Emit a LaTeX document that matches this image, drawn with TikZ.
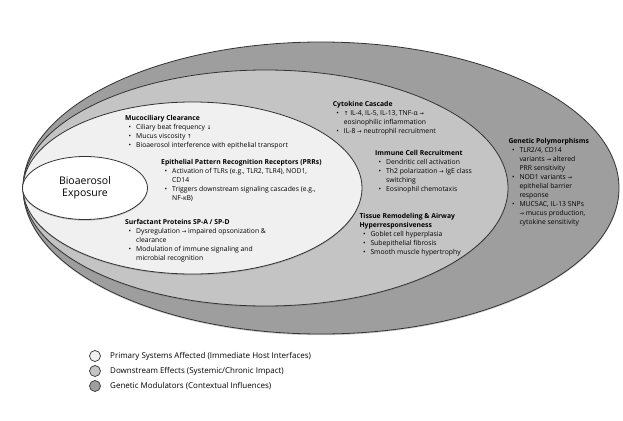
\documentclass[tikz,border=0pt]{standalone}
\usepackage{fontspec}
\setmainfont{Open Sans}
\newfontfamily\arrowfont{DejaVu Sans}
\usetikzlibrary{shapes.geometric,shadows}
\newcommand{\ra}{{\arrowfont\fontsize{5.5}{9}\selectfont →}}
\newcommand{\up}{{\arrowfont\fontsize{5.5}{9}\selectfont ↑}}
\newcommand{\dn}{{\arrowfont\fontsize{5.5}{9}\selectfont ↓}}
\newcommand{\bl}{\hspace*{3.5pt}\makebox[7.5pt][l]{•}}
\newcommand{\cn}{\hspace*{11pt}}

\begin{document}
\begin{tikzpicture}[x=1pt,y=-1pt,
    ring/.style={draw=black!80,line width=0.8pt,ellipse,inner sep=0pt,
      drop shadow={shadow xshift=0pt,shadow yshift=-1.2pt,opacity=.4}},
    box/.style={anchor=north west,align=left,inner sep=0pt,
      font=\fontsize{6.8}{9}\selectfont,execute at begin node=\strut},
    key/.style={circle,draw=black!80,line width=0.7pt,minimum size=11pt,inner sep=0pt}]
  \useasboundingbox (0,0) rectangle (623,420);
  \node[ring,fill=black!38,minimum width=596pt,minimum height=292pt] (outer) at (321,188) {};
  \node[ring,fill=black!23,minimum width=485pt,minimum height=236pt] (middle) at (265.5,188) {};
  \node[ring,fill=black!6,minimum width=339pt,minimum height=172pt] (inner) at (192.5,188) {};
  \node[ring,fill=white,minimum width=125pt,minimum height=63pt,align=center,
    font=\fontsize{10.5}{12.5}\selectfont] (bio) at (85,188) {Bioaerosol\\Exposure};

  \node[box] (muco) at (125,115.2) {\textbf{Mucociliary Clearance}\\
    \bl Ciliary beat frequency \dn\\
    \bl Mucus viscosity \up\\
    \bl Bioaerosol interference with epithelial transport};
  \node[box] (prr) at (161,159.2) {\textbf{Epithelial Pattern Recognition Receptors (PRRs)}\\
    \bl Activation of TLRs (e.g., TLR2, TLR4), NOD1,\\
    \cn CD14\\
    \bl Triggers downstream signaling cascades (e.g.,\\
    \cn NF-κB)};
  \node[box] (surf) at (125,218.7) {\textbf{Surfactant Proteins SP-A / SP-D}\\
    \bl Dysregulation \ra{} impaired opsonization \&\\
    \cn clearance\\
    \bl Modulation of immune signaling and\\
    \cn microbial recognition};

  \node[box] (cyto) at (332.7,100.7) {\textbf{Cytokine Cascade}\\
    \bl \up{} IL-4, IL-5, IL-13, TNF-α \ra\\
    \cn eosinophilic inflammation\\
    \bl IL-8 \ra{} neutrophil recruitment};
  \node[box] (immune) at (375,150) {\textbf{Immune Cell Recruitment}\\
    \bl Dendritic cell activation\\
    \bl Th2 polarization \ra{} IgE class\\
    \cn switching\\
    \bl Eosinophil chemotaxis};
  \node[box] (tissue) at (359.3,213.2) {\textbf{Tissue Remodeling \& Airway}\\
    \textbf{Hyperresponsiveness}\\
    \bl Goblet cell hyperplasia\\
    \bl Subepithelial fibrosis\\
    \bl Smooth muscle hypertrophy};

  \node[box] (genetic) at (508.3,138.2) {\textbf{Genetic Polymorphisms}\\
    \bl TLR2/4, CD14\\
    \cn variants \ra{} altered\\
    \cn PRR sensitivity\\
    \bl NOD1 variants \ra\\
    \cn epithelial barrier\\
    \cn response\\
    \bl MUC5AC, IL-13 SNPs\\
    \cn \ra{} mucus production,\\
    \cn cytokine sensitivity};

  \foreach \c/\t [count=\i] in {black!6/{Primary Systems Affected (Immediate Host Interfaces)},
      black!23/{Downstream Effects (Systemic/Chronic Impact)},
      black!38/{Genetic Modulators (Contextual Influences)}} {
    \node[key,fill=\c] (key\i) at (95,341+15*\i) {};
    \node[anchor=west,inner sep=0pt,font=\fontsize{8}{9}\selectfont] (leg\i) at (110,341+15*\i) {\t};
  }
\end{tikzpicture}
\end{document}
